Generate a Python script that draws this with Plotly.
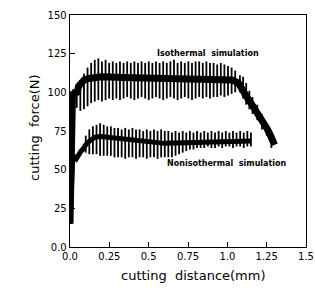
import numpy as np
import plotly.graph_objects as go

# ---- axis ticks ----
x_tickvals = [0.0, 0.25, 0.5, 0.75, 1.0, 1.25, 1.5]
x_ticktext = ["0.0", "0.25", "0.5", "0.75", "1.0", "1.25", "1.5"]
y_tickvals = [0, 25, 50, 75, 100, 125, 150]
y_ticktext = ["0.0", "25", "50", "75", "100", "125", "150"]

# ---- Isothermal simulation ----
iso_band_x = [0.0, 0.003, 0.006, 0.009, 0.012, 0.016, 0.03, 0.045, 0.055, 0.07, 0.09, 0.12,
              0.2, 0.4, 0.6, 0.8, 0.95, 1.03, 1.07, 1.09, 1.11, 1.13, 1.15, 1.17, 1.19,
              1.21, 1.23, 1.25, 1.27, 1.29, 1.30]
iso_band_y = [15, 40, 65, 85, 96, 100, 99, 100, 104, 106, 108, 109,
              110, 109.5, 109, 109, 108.5, 108, 106, 102, 99, 96, 93, 90, 86,
              83, 80, 77, 73, 69, 66]
iso_spike_start, iso_spike_end = 0.02, 1.05
iso_peak = [102, 105, 108, 112, 116, 119, 121, 122, 120, 121,
            119, 120, 119, 120, 119, 120, 119, 120, 119, 120,
            119, 120, 119, 120, 119, 120, 119, 120, 121, 119,
            120, 119, 120, 119, 120, 120, 119, 120, 119, 119,
            118, 119, 118, 117, 116, 114]
iso_trough = [92, 90, 88, 89, 91, 93, 94, 95, 94, 95,
              96, 95, 96, 95, 96, 97, 96, 95, 96, 97,
              96, 95, 96, 97, 96, 95, 96, 97, 96, 95,
              96, 97, 96, 95, 96, 97, 96, 97, 96, 97,
              97, 98, 97, 98, 99, 100]
iso_tail_x = [1.08, 1.10, 1.12, 1.14, 1.16, 1.19, 1.22, 1.25, 1.28]
iso_tail_top = [111, 110, 106, 101, 97, 92, 86, 80, 74]
iso_tail_bot = [100, 96, 92, 89, 86, 82, 76, 72, 64]

# ---- Nonisothermal simulation ----
non_band_x = [0.0, 0.004, 0.008, 0.012, 0.016, 0.02, 0.03, 0.04, 0.05, 0.06, 0.07, 0.08,
              0.09, 0.1, 0.13, 0.16, 0.2, 0.25, 0.4, 0.6, 0.8, 1.0, 1.15]
non_band_y = [15, 30, 42, 50, 55, 57, 58, 57, 59, 60, 62, 63,
              65, 66, 69, 71, 71.5, 71, 69, 67, 67.5, 68, 68.5]
non_spike_start, non_spike_end = 0.10, 1.15
non_peak = [72, 76, 78, 79, 80, 79, 78, 78, 77, 77,
            76, 77, 76, 77, 76, 76, 75, 76, 75, 76,
            75, 76, 75, 75, 74, 75, 74, 75, 74, 75,
            74, 75, 74, 75, 74, 75, 74, 75, 74, 75,
            74, 75, 74, 75, 74, 75, 74]
non_trough = [61, 60, 60, 60, 59, 59, 59, 59, 58, 58,
              58, 57, 58, 58, 57, 58, 58, 57, 58, 58,
              57, 58, 58, 58, 58, 59, 60, 61, 62, 63,
              63, 64, 64, 64, 65, 64, 64, 65, 64, 65,
              65, 64, 65, 65, 64, 65, 65]

FONT = "DejaVu Sans"


def spikes(xs, tops, bots):
    sx, sy = [], []
    for x, t, b in zip(xs, tops, bots):
        sx += [x, x, None]
        sy += [b, t, None]
    return sx, sy


iso_x = list(np.linspace(iso_spike_start, iso_spike_end, len(iso_peak))) + iso_tail_x
iso_sx, iso_sy = spikes(iso_x, iso_peak + iso_tail_top, iso_trough + iso_tail_bot)
non_x = list(np.linspace(non_spike_start, non_spike_end, len(non_peak)))
non_sx, non_sy = spikes(non_x, non_peak, non_trough)

fig = go.Figure()
fig.add_trace(go.Scatter(x=iso_sx, y=iso_sy, mode="lines", line=dict(color="black", width=1.8),
                         hoverinfo="skip", showlegend=False))
fig.add_trace(go.Scatter(x=iso_band_x, y=iso_band_y, mode="lines", line=dict(color="black", width=7),
                         name="Isothermal simulation", showlegend=False))
fig.add_trace(go.Scatter(x=non_sx, y=non_sy, mode="lines", line=dict(color="black", width=1.8),
                         hoverinfo="skip", showlegend=False))
fig.add_trace(go.Scatter(x=non_band_x, y=non_band_y, mode="lines", line=dict(color="black", width=5),
                         name="Nonisothermal simulation", showlegend=False))

fig.add_annotation(x=0.875, y=125, text="<b>Isothermal  simulation</b>", showarrow=False,
                   font=dict(family=FONT, size=8, color="black"))
fig.add_annotation(x=1.0, y=54, text="<b>Nonisothermal  simulation</b>", showarrow=False,
                   font=dict(family=FONT, size=8, color="black"))
fig.add_annotation(xref="paper", yref="paper", x=0.524, y=-0.164, text="cutting  distance(mm)",
                   showarrow=False, font=dict(family=FONT, size=13, color="black"))
fig.add_annotation(xref="paper", yref="paper", x=-0.193, y=0.517, text="cutting  force(N)",
                   showarrow=False, textangle=-90, font=dict(family=FONT, size=13, color="black"))

axis_common = dict(showgrid=False, zeroline=False, showline=True, linecolor="black", linewidth=1.3,
                   mirror=True, ticks="inside", ticklen=5, tickwidth=1, tickcolor="black",
                   automargin=False, ticklabeloverflow="allow",
                   tickfont=dict(family=FONT, size=10, color="black"))
fig.update_xaxes(range=[0, 1.5], tickvals=x_tickvals, ticktext=x_ticktext, **axis_common)
fig.update_yaxes(range=[0, 150], tickvals=y_tickvals, ticktext=y_ticktext, **axis_common)

fig.update_layout(width=315, height=293, margin=dict(l=70, r=9, t=15, b=46),
                  plot_bgcolor="white", paper_bgcolor="white", showlegend=False,
                  font=dict(family=FONT, color="black"))

# remove the default page margin so the figure fills the 315x293 window without scrollbars
fig.write_html("out.html",
               config={"displayModeBar": False, "staticPlot": True},
               post_script="document.documentElement.style.overflow='hidden';"
                           "document.body.style.margin='0';document.body.style.overflow='hidden';")
